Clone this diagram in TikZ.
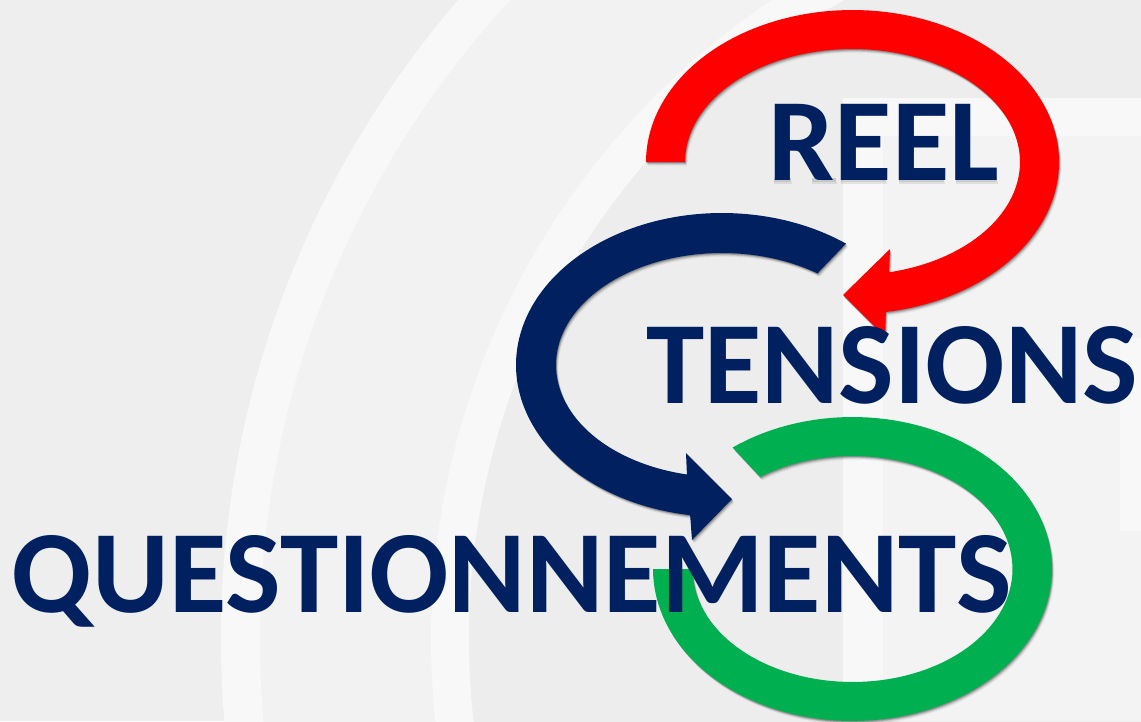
\documentclass[tikz,border=0pt]{standalone}
\usepackage{fontspec}
\setmainfont{Carlito}[BoldFont={Carlito Bold}]
\definecolor{bgbase}{HTML}{EEEEEE}
\definecolor{bginner}{HTML}{EDEDED}
\definecolor{bgmid}{HTML}{F2F2F2}
\definecolor{bgsquare}{HTML}{F3F3F3}
\definecolor{bgband}{HTML}{F8F8F8}
\definecolor{navyc}{HTML}{002060}
\definecolor{redc}{HTML}{FF0000}
\definecolor{greenc}{HTML}{00B050}
\tikzset{
  x=1pt,y=-1pt,
  word/.style={font=\bfseries\fontsize{117.5}{117.5}\selectfont,inner sep=0pt,outer sep=0pt,anchor=base west,text=navyc},
}
\newcommand{\redpath}{
  plot[domain=180:-80.7,samples=120] ({852.5+206.5*cos(\x)},{162-152*sin(\x)})
  -- (885,337) -- (843,295) -- (890,249) -- (889,272)
  -- plot[domain=-77.4:180,samples=120] ({852.5+167.5*cos(\x)},{162-113*sin(\x)}) -- cycle}
\newcommand{\navypath}{
  plot[domain=53:261.1,samples=120] ({722+206*cos(\x)},{365-152*sin(\x)})
  -- (692,540) -- (732,499) -- (686,453) -- (687,476)
  -- plot[domain=257.8:54.9,samples=120] ({722+166*cos(\x)},{365-112*sin(\x)}) -- cycle}
\newcommand{\greenpath}{
  plot[domain=126.9:-180,samples=120] ({852.5+199.5*cos(\x)},{569-152*sin(\x)})
  -- plot[domain=-180:125.3,samples=120] ({852.5+160*cos(\x)},{569-113*sin(\x)}) -- cycle}
\newcommand{\softshadow}[1]{
  \foreach \d/\o in {0.8/0.18,1.6/0.14,2.4/0.10,3.2/0.06,4/0.03}{
    \fill[black,opacity=\o,shift={(0.6*\d,\d)}] #1;
  }
}
\begin{document}
\begin{tikzpicture}
\useasboundingbox (0,0) rectangle (1141,721);
\clip (0,0) rectangle (1141,721);
\fill[bgbase] (0,0) rectangle (1141,721);
% background arcs
\fill[bgband] (1200,639) circle[radius=979];
\fill[bgmid] (1200,639) circle[radius=940];
\fill[bgband] (1200,639) circle[radius=769];
\fill[bginner] (1200,639) circle[radius=731];
% background square
\fill[bgband] (843,98) rectangle (1141,721);
\fill[bgsquare] (883,136) rectangle (1141,721);
\fill[bgband] (1120,338) rectangle (1141,531);
% arrows
\softshadow{\redpath}
\fill[redc] \redpath;
\softshadow{\navypath}
\fill[navyc] \navypath;
\softshadow{\greenpath}
\fill[greenc] \greenpath;
% soft shadow strips below the letters of REEL
\foreach \a/\b in {774/791,812/836,841/886,899/944,956/997}{
  \fill[black,opacity=0.16] (\a,178) rectangle (\b,182);
  \fill[black,opacity=0.08] (\a,182) rectangle (\b+1,184);
}
% words
\node[word] (reel) at (768.5,180) {REEL};
\node[word] (tensions) at (646,403) {TENSIONS};
\node[word] (quest) at (12,612) {QUESTIONNEMENTS};
\end{tikzpicture}
\end{document}
